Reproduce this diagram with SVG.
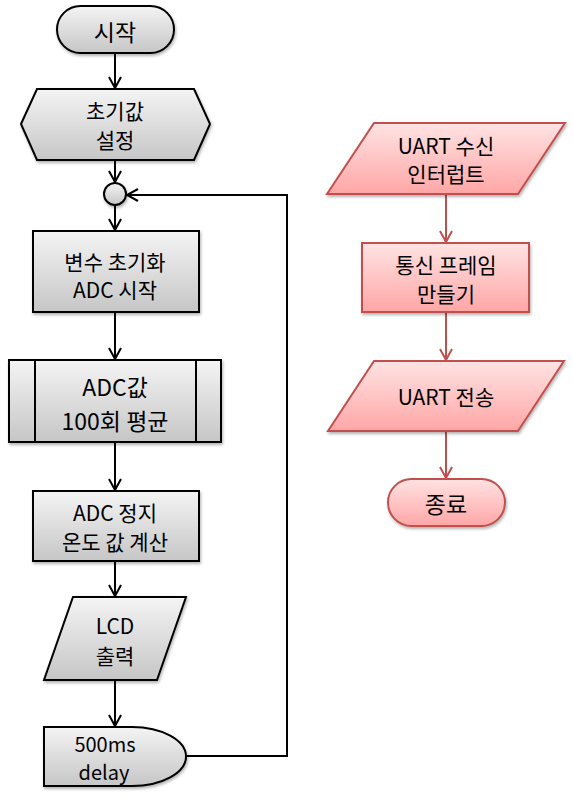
<svg xmlns="http://www.w3.org/2000/svg" width="573" height="798" viewBox="0 0 573 798">
<style>
.g{fill:url(#gg);stroke:#000;stroke-width:2;filter:url(#sh)}
.r{fill:url(#rg);stroke:#c0504d;stroke-width:2;filter:url(#sh)}
.ln{fill:none;stroke:#000;stroke-width:2}
.lr{fill:none;stroke:#c0504d;stroke-width:2}
text{font-family:"Noto Sans CJK KR","Noto Sans",sans-serif;font-size:21px;fill:#000;text-anchor:middle;dominant-baseline:central}
.big{font-size:23px}
.sm{font-size:20px}
</style>
<defs>
<linearGradient id="gg" x1="0" y1="0" x2="0" y2="1"><stop offset="0" stop-color="#f4f4f4"/><stop offset="1" stop-color="#c6c6c6"/></linearGradient>
<linearGradient id="rg" x1="0" y1="0" x2="0" y2="1"><stop offset="0" stop-color="#ffe3e3"/><stop offset="1" stop-color="#ffa6a6"/></linearGradient>
<filter id="sh" x="-10%" y="-10%" width="130%" height="140%"><feDropShadow dx="1" dy="2" stdDeviation="1.5" flood-color="#000" flood-opacity="0.3"/></filter>
<marker id="ab" markerUnits="userSpaceOnUse" markerWidth="14" markerHeight="14" refX="12" refY="7" orient="auto" viewBox="0 0 14 14"><path d="M1,1 L12,7 L1,13" fill="none" stroke="#000" stroke-width="2"/></marker>
<marker id="ar" markerUnits="userSpaceOnUse" markerWidth="14" markerHeight="14" refX="12" refY="7" orient="auto" viewBox="0 0 14 14"><path d="M1,1 L12,7 L1,13" fill="none" stroke="#c0504d" stroke-width="2"/></marker>
</defs>
<g id="connectors">
<path class="ln" d="M115,53 V88" marker-end="url(#ab)"/>
<path class="ln" d="M115,160 V182" marker-end="url(#ab)"/>
<path class="ln" d="M115,205 V230" marker-end="url(#ab)"/>
<path class="ln" d="M115,312 V359" marker-end="url(#ab)"/>
<path class="ln" d="M115,442 V490" marker-end="url(#ab)"/>
<path class="ln" d="M115,561 V596" marker-end="url(#ab)"/>
<path class="ln" d="M115,680 V726" marker-end="url(#ab)"/>
<path class="ln" d="M186,756 H287 V195 H127" marker-end="url(#ab)"/>
<path class="lr" d="M446,194 V242" marker-end="url(#ar)"/>
<path class="lr" d="M446,312 V360" marker-end="url(#ar)"/>
<path class="lr" d="M446,431 V478" marker-end="url(#ar)"/>
</g>
<g id="start"><rect class="g" x="57" y="6" width="117" height="47" rx="23.5"/><text class="big" x="115" y="31">시작</text></g>
<g id="init"><polygon class="g" points="21,124 37,89 194,89 210,124 194,160 37,160"/><text x="115" y="110">초기값</text><text x="115" y="139">설정</text></g>
<g id="junction"><circle class="g" cx="115" cy="194" r="11"/></g>
<g id="varinit"><rect class="g" x="33" y="231" width="166" height="81"/><text x="115" y="261">변수 초기화</text><text x="115" y="289">ADC 시작</text></g>
<g id="avg"><rect class="g" x="9" y="360" width="212" height="82"/><path class="ln" d="M35,360 V442 M196,360 V442"/><text class="big" x="115" y="386">ADC값</text><text class="big" x="115" y="420">100회 평균</text></g>
<g id="stop"><rect class="g" x="33" y="491" width="166" height="70"/><text x="115" y="512">ADC 정지</text><text x="115" y="541">온도 값 계산</text></g>
<g id="lcd"><polygon class="g" points="73,597 186,597 157,680 44,680"/><text x="115" y="625">LCD</text><text x="115" y="655">출력</text></g>
<g id="delay"><path class="g" d="M44,727 H132 A54,29.5 0 0 1 132,786 H44 Z"/><text class="sm" x="105" y="743">500ms</text><text class="sm" x="104" y="771">delay</text></g>
<g id="uartrx"><polygon class="r" points="374,123 565,123 518,194 327,194"/><text x="446" y="145">UART 수신</text><text x="446" y="173">인터럽트</text></g>
<g id="frame"><rect class="r" x="362" y="243" width="167" height="69"/><text x="446" y="264">통신 프레임</text><text x="446" y="293">만들기</text></g>
<g id="uarttx"><polygon class="r" points="374,361 564,361 518,431 328,431"/><text x="446" y="396">UART 전송</text></g>
<g id="end"><rect class="r" x="388" y="479" width="117" height="47" rx="23.5"/><text class="big" x="446" y="503">종료</text></g>
</svg>
